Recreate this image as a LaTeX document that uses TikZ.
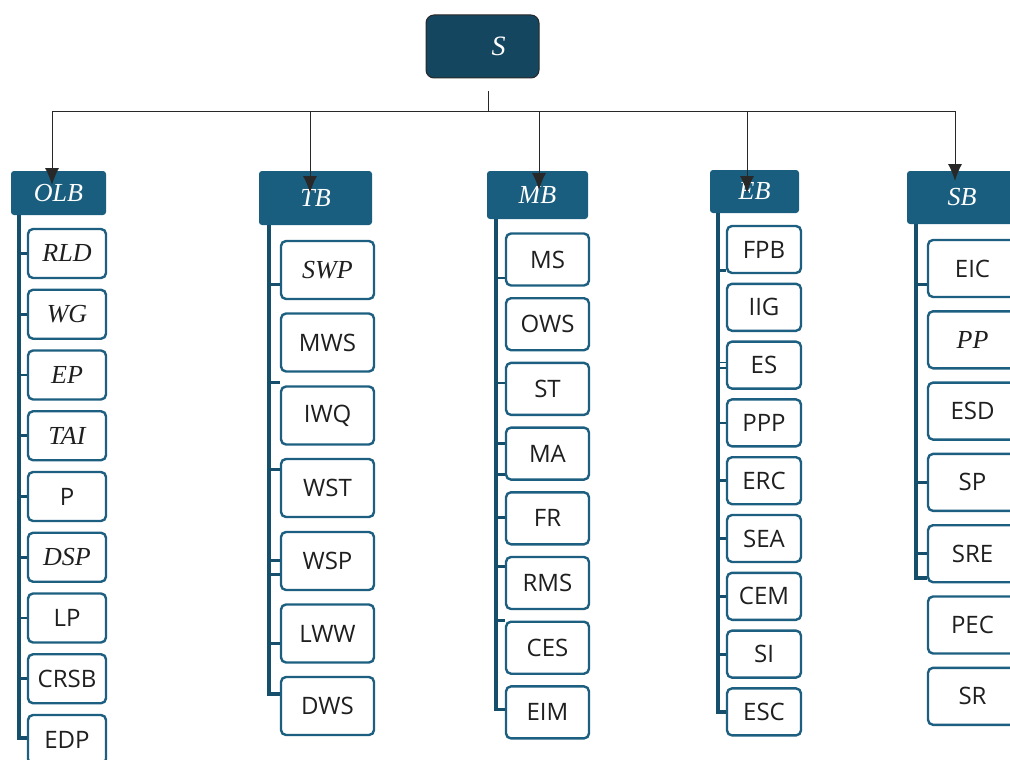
\documentclass[tikz,border=0pt]{standalone}
\usepackage{fontspec}
\setmainfont{Liberation Serif}
\newfontfamily\leafsans{Open Sans}
\usetikzlibrary{arrows.meta,calc}
\definecolor{rootc}{HTML}{15465F}
\definecolor{headc}{HTML}{1A5E7F}
\definecolor{edgec}{HTML}{1D5F80}
\definecolor{trunkc}{HTML}{164F6B}
\definecolor{linec}{HTML}{282828}
\newcommand\tk[3]{\coordinate (tkp) at ($(#2.north west)!#3!(#2.south west)$); \draw[tick] (tkp -| #1) -- (tkp);}
\newcommand\tkend[3]{\coordinate (tkp) at ($(#2.north west)!#3!(#2.south west)$); \draw[trunk] (#1) |- (tkp);}
\begin{document}
\begin{tikzpicture}[x=1pt,y=-1pt,
 rootbox/.style={draw=linec, line width=1pt, fill=rootc, rounded corners=8pt, text=white, font=\fontsize{28}{30}\selectfont\itshape, minimum width=113pt, minimum height=63pt},
 headbox/.style={fill=headc, rounded corners=3pt, text=white, font=\fontsize{26}{28}\selectfont\itshape, inner sep=0pt},
 leaf/.style={draw=edgec, line width=2.4pt, fill=white, rounded corners=5pt, text=black!88, font=\fontsize{24}{26}\selectfont\leafsans, inner sep=0pt},
 ileaf/.style={leaf, font=\fontsize{26}{28}\selectfont\itshape},
 oleaf/.style={minimum width=78pt, minimum height=49pt},
 tleaf/.style={minimum width=93pt, minimum height=58pt},
 mleaf/.style={minimum width=83pt, minimum height=52pt},
 eleaf/.style={minimum width=74pt, minimum height=47pt},
 sleaf/.style={minimum width=89pt, minimum height=57pt},
 arr/.style={draw=linec, line width=1pt, -{Latex[length=17pt,width=14pt]}},
 conn/.style={draw=linec, line width=1pt},
 trunk/.style={draw=trunkc, line width=3.2pt},
 tick/.style={draw=trunkc, line width=2.8pt},
 thintick/.style={draw=trunkc, line width=1.4pt}]
\useasboundingbox (0,0) rectangle (1010,760);

% root
\node[rootbox] (root) at (482.5,46.5) {\hspace*{32pt}S};

% headers
\node[headbox, minimum width=95pt, minimum height=44pt] (olb) at (58.5,193) {OLB};
\node[headbox, minimum width=113pt, minimum height=54pt] (tb) at (315.5,198) {TB};
\node[headbox, minimum width=101pt, minimum height=48pt] (mb) at (537.5,195) {MB};
\node[headbox, minimum width=89pt, minimum height=43pt] (eb) at (754.5,191.5) {EB};
\node[headbox, minimum width=110pt, minimum height=53pt] (sb) at (962,197.5) {SB};

% connectors from root
\coordinate (stem) at (488,91);
\coordinate (bus) at (488,111);
\coordinate (olbtip) at (52,185);
\coordinate (tbtip) at (310,193);
\coordinate (mbtip) at (539,190);
\coordinate (ebtip) at (747,193);
\coordinate (sbtip) at (955,181);
\draw[conn] (stem) -- (bus);
\draw[arr] (bus) -| (olbtip);
\draw[arr] (bus) -| (tbtip);
\draw[arr] (bus) -| (mbtip);
\draw[arr] (bus) -| (ebtip);
\draw[arr] (bus) -| (sbtip);

% OLB column
\node[ileaf, oleaf] (o1) at (67,253.5) {RLD};
\node[ileaf, oleaf] (o2) at (67,314.25) {WG};
\node[ileaf, oleaf] (o3) at (67,375) {EP};
\node[ileaf, oleaf] (o4) at (67,435.75) {TAI};
\node[leaf, oleaf] (o5) at (67,496.5) {P};
\node[ileaf, oleaf] (o6) at (67,557.25) {DSP};
\node[leaf, oleaf] (o7) at (67,618) {LP};
\node[leaf, oleaf] (o8) at (67,678.75) {CRSB};
\node[leaf, oleaf] (o9) at (67,739.5) {EDP};
\coordinate (olbT) at (19,215);
\tkend{olbT}{o9}{0.47}
\foreach \n in {o1,o2,o3,o4,o5,o6,o7,o8}{\tk{olbT}{\n}{0.5}}

% TB column
\node[ileaf, tleaf] (t1) at (327.5,270) {SWP};
\node[leaf, tleaf] (t2) at (327.5,342.5) {MWS};
\node[leaf, tleaf] (t3) at (327.5,415.5) {IWQ};
\node[leaf, tleaf] (t4) at (327.5,488) {WST};
\node[leaf, tleaf] (t5) at (327.5,561) {WSP};
\node[leaf, tleaf] (t6) at (327.5,633.5) {LWW};
\node[leaf, tleaf] (t7) at (327.5,706) {DWS};
\coordinate (tbT) at (269,225);
\tkend{tbT}{t7}{0.3}
\tk{tbT}{t1}{0.74}
\tk{tbT}{t3}{-0.05}
\tk{tbT}{t4}{0.2}
\tk{tbT}{t5}{0.49}
\tk{tbT}{t5}{0.73}
\tk{tbT}{t6}{0.66}

% MB column
\node[leaf, mleaf] (m1) at (547.5,259.5) {MS};
\node[leaf, mleaf] (m2) at (547.5,324.2) {OWS};
\node[leaf, mleaf] (m3) at (547.5,388.9) {ST};
\node[leaf, mleaf] (m4) at (547.5,453.6) {MA};
\node[leaf, mleaf] (m5) at (547.5,518.3) {FR};
\node[leaf, mleaf] (m6) at (547.5,583) {RMS};
\node[leaf, mleaf] (m7) at (547.5,647.7) {CES};
\node[leaf, mleaf] (m8) at (547.5,712.4) {EIM};
\coordinate (mbT) at (496,219);
\tkend{mbT}{m8}{0.45}
\tk{mbT}{m1}{0.84}
\tk{mbT}{m3}{0.39}
\tk{mbT}{m4}{0.31}
\tk{mbT}{m4}{0.88}
\tk{mbT}{m5}{0.48}
\tk{mbT}{m6}{0.19}
\tk{mbT}{m7}{0.0}

% EB column
\node[leaf, eleaf] (e1) at (764,249.5) {FPB};
\node[leaf, eleaf] (e2) at (764,307.3) {IIG};
\node[leaf, eleaf] (e3) at (764,365.1) {ES};
\node[leaf, eleaf] (e4) at (764,422.9) {PPP};
\node[leaf, eleaf] (e5) at (764,480.7) {ERC};
\node[leaf, eleaf] (e6) at (764,538.5) {SEA};
\node[leaf, eleaf] (e7) at (764,596.3) {CEM};
\node[leaf, eleaf] (e8) at (764,654.1) {SI};
\node[leaf, eleaf] (e9) at (764,711.9) {ESC};
\coordinate (ebT) at (718,213);
\tkend{ebT}{e9}{0.5}
\tk{ebT}{e1}{0.93}
\coordinate (tkp) at ($(e3.north west)!0.45!(e3.south west)$); \draw[thintick] (tkp -| ebT) -- (tkp);
\coordinate (tkp) at ($(e3.north west)!0.56!(e3.south west)$); \draw[thintick] (tkp -| ebT) -- (tkp);
\foreach \n in {e4,e5,e6,e7,e8}{\tk{ebT}{\n}{0.5}}

% SB column
\node[leaf, sleaf] (s1) at (972.5,268.5) {EIC};
\node[ileaf, sleaf] (s2) at (972.5,339.8) {PP};
\node[leaf, sleaf] (s3) at (972.5,411.1) {ESD};
\node[leaf, sleaf] (s4) at (972.5,482.4) {SP};
\node[leaf, sleaf] (s5) at (972.5,553.7) {SRE};
\node[leaf, sleaf] (s6) at (972.5,625) {PEC};
\node[leaf, sleaf] (s7) at (972.5,696.3) {SR};
\coordinate (sbT) at (916,224);
\tkend{sbT}{s5}{0.91}
\tk{sbT}{s1}{0.77}
\tk{sbT}{s4}{0.5}
\tk{sbT}{s5}{0.5}
\end{tikzpicture}
\end{document}
